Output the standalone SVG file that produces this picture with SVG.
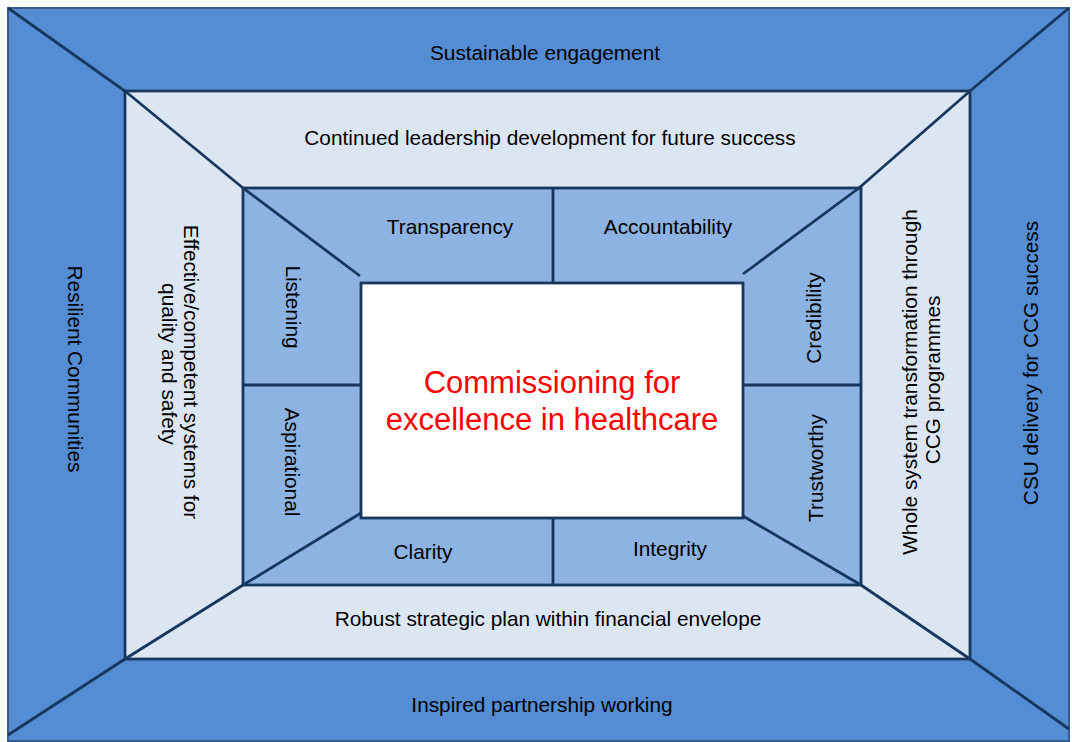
<svg xmlns="http://www.w3.org/2000/svg" width="1072" height="742" viewBox="0 0 1072 742">
<style>
.t{font-family:"Liberation Sans",Arial,sans-serif;font-size:20.8px;fill:#000;text-anchor:middle}
.c{font-family:"Liberation Sans",Arial,sans-serif;font-size:31px;fill:#FF0000;text-anchor:middle}
.ln{fill:none;stroke:#17375E;stroke-width:2.8;stroke-linejoin:miter}
</style>
<rect width="1072" height="742" fill="#FFFFFF"/>
<g id="outer-ring">
<rect x="8" y="8" width="1061" height="733" fill="#548DD4" stroke="#385D8A" stroke-width="2"/>
<text class="t" x="545" y="60">Sustainable engagement</text>
<text class="t" x="542" y="712">Inspired partnership working</text>
<text class="t" transform="translate(68,369) rotate(90)">Resilient Communities</text>
<text class="t" transform="translate(1038,363) rotate(-90)">CSU delivery for CCG success</text>
</g>
<g id="middle-ring">
<rect x="125" y="91" width="845" height="568" fill="#DCE6F2" stroke="#17375E" stroke-width="2.8"/>
<text class="t" x="550" y="145">Continued leadership development for future success</text>
<text class="t" x="548" y="626">Robust strategic plan within financial envelope</text>
<text class="t" transform="translate(184,372) rotate(90)">Effective/competent systems for</text>
<text class="t" transform="translate(162,364) rotate(90)">quality and safety</text>
<text class="t" transform="translate(917,382) rotate(-90)">Whole system transformation through</text>
<text class="t" transform="translate(940,380) rotate(-90)">CCG programmes</text>
</g>
<g id="inner-ring">
<rect x="243" y="188" width="618" height="397" fill="#8DB3E2" stroke="#17375E" stroke-width="2.8"/>
<text class="t" x="450" y="234">Transparency</text>
<text class="t" x="668" y="234">Accountability</text>
<text class="t" x="423" y="559">Clarity</text>
<text class="t" x="670" y="556">Integrity</text>
<text class="t" transform="translate(286,307) rotate(90)">Listening</text>
<text class="t" transform="translate(285,462) rotate(90)">Aspirational</text>
<text class="t" transform="translate(821,318) rotate(-90)">Credibility</text>
<text class="t" transform="translate(823,468) rotate(-90)">Trustworthy</text>
</g>
<g id="connectors">
<polyline class="ln" points="8,8 125,91 243,188 360,276"/>
<polyline class="ln" points="1069,8 970,91 859,188 743,274"/>
<polyline class="ln" points="8,735 125,659 243,585 361,513"/>
<polyline class="ln" points="743,516 861,585 970,659 1069,729"/>
<line class="ln" x1="553" y1="188" x2="553" y2="283"/>
<line class="ln" x1="553" y1="518" x2="553" y2="585"/>
<line class="ln" x1="243" y1="385" x2="361" y2="385"/>
<line class="ln" x1="743" y1="385" x2="861" y2="385"/>
</g>
<g id="center">
<rect x="361" y="283" width="382" height="235" fill="#FFFFFF" stroke="#17375E" stroke-width="2.8"/>
<text class="c" x="552" y="393">Commissioning for</text>
<text class="c" x="552" y="430">excellence in healthcare</text>
</g>
</svg>
